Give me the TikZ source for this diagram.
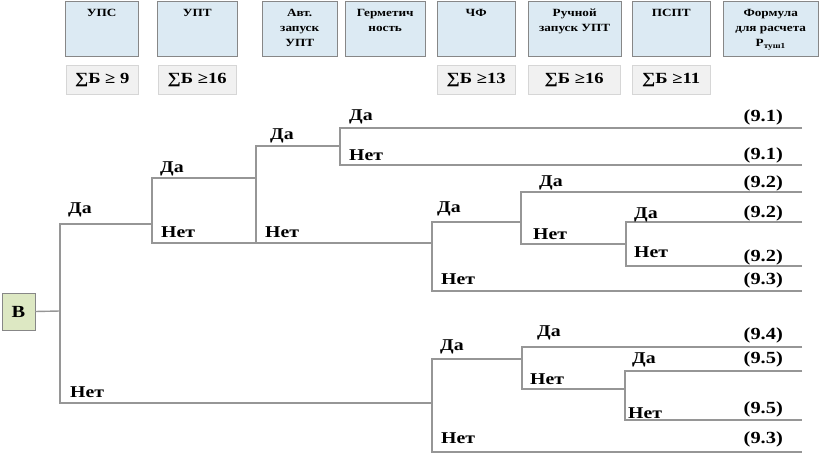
\documentclass[tikz,border=0pt]{standalone}
\usepackage{fontspec}
\setmainfont{Liberation Serif}[FakeStretch=1.2]
\usetikzlibrary{positioning}
\definecolor{hdrfill}{RGB}{220,234,243}
\definecolor{hdrline}{RGB}{135,135,135}
\definecolor{sumfill}{RGB}{241,241,241}
\definecolor{sumline}{RGB}{214,214,214}
\definecolor{bfill}{RGB}{221,232,195}
\definecolor{treeline}{RGB}{150,150,150}
\tikzset{
  hdrbox/.style={draw=hdrline,fill=hdrfill,inner sep=0pt,minimum height=55pt,anchor=north west},
  hdrtext/.style={anchor=north,yshift=-8pt,inner sep=0pt,align=center,font=\bfseries\fontsize{11}{15}\selectfont},
  sumbox/.style={draw=sumline,fill=sumfill,inner sep=0pt,minimum height=29pt,anchor=north west,font=\bfseries\fontsize{15.5}{16}\selectfont},
  branch/.style={draw=treeline,line width=1.4pt},
  ans/.style={inner sep=0pt,anchor=base west,font=\bfseries\fontsize{16.5}{16}\selectfont},
  formula/.style={inner sep=0pt,anchor=base east,font=\bfseries\fontsize{17}{16}\selectfont},
}
\begin{document}
\begin{tikzpicture}[x=1pt,y=-1pt]
  \useasboundingbox (0,0) rectangle (822,454);
  \node[hdrbox,minimum width=73pt,label={[hdrtext]north:УПС}] (hUPS) at (65,1) {};
  \node[hdrbox,minimum width=80pt,label={[hdrtext]north:УПТ}] (hUPT) at (157,1) {};
  \node[hdrbox,minimum width=75pt,label={[hdrtext]north:{Авт.\\запуск\\УПТ}}] (hAvt) at (262,1) {};
  \node[hdrbox,minimum width=80pt,label={[hdrtext]north:{Герметич\\ность}}] (hGerm) at (345,1) {};
  \node[hdrbox,minimum width=78pt,label={[hdrtext]north:ЧФ}] (hCF) at (437,1) {};
  \node[hdrbox,minimum width=93pt,label={[hdrtext]north:{Ручной\\запуск УПТ}}] (hRuch) at (528,1) {};
  \node[hdrbox,minimum width=78pt,label={[hdrtext]north:ПСПТ}] (hPSPT) at (632,1) {};
  \node[hdrbox,minimum width=95pt,label={[hdrtext]north:{Формула\\для расчета\\P\textsubscript{туш1}}}] (hForm) at (723,1) {};

  \node[sumbox,minimum width=72pt] (sUPS) at (66,65) {∑Б ≥ 9};
  \node[sumbox,minimum width=78pt] (sUPT) at (158,65) {∑Б ≥16};
  \node[sumbox,minimum width=78pt] (sCF) at (437,65) {∑Б ≥13};
  \node[sumbox,minimum width=92pt] (sRuch) at (528,65) {∑Б ≥16};
  \node[sumbox,minimum width=78pt] (sPSPT) at (632,65) {∑Б ≥11};

  \node[draw=hdrline,fill=bfill,inner sep=0pt,minimum width=33pt,minimum height=37pt,
        font=\bfseries\fontsize{17}{17}\selectfont] (B) at (18.5,311.5) {В};

  \coordinate (e) at (802,0);
  \coordinate (r) at (60,311);
  \coordinate (rY) at (60,224);   \coordinate (rN) at (60,403);
  \coordinate (a1Y) at (152,178); \coordinate (a1N) at (152,243);
  \coordinate (a2Y) at (256,146); \coordinate (a2N) at (256,243);
  \coordinate (a3Y) at (340,128); \coordinate (a3N) at (340,165);
  \coordinate (c1Y) at (432,222); \coordinate (c1N) at (432,291);
  \coordinate (c2Y) at (521,192); \coordinate (c2N) at (521,244);
  \coordinate (c3Y) at (626,222); \coordinate (c3N) at (626,266);
  \coordinate (d1Y) at (432,359); \coordinate (d1N) at (432,452);
  \coordinate (d2Y) at (522,347); \coordinate (d2N) at (522,389);
  \coordinate (d3Y) at (625,371); \coordinate (d3N) at (625,420);

  \draw[branch] (B.east) -- (r);
  \draw[branch] (rY -| a1Y) -- (rY) -- (rN) -- (rN -| d1Y);
  \draw[branch] (a1Y -| a2Y) -- (a1Y) -- (a1N) -- (a1N -| c1Y);
  \draw[branch] (a2Y -| a3Y) -- (a2Y) -- (a2N);
  \draw[branch] (a3Y -| e) -- (a3Y) -- (a3N) -- (a3N -| e);
  \draw[branch] (c1Y -| c2Y) -- (c1Y) -- (c1N) -- (c1N -| e);
  \draw[branch] (c2Y -| e) -- (c2Y) -- (c2N) -- (c2N -| c3Y);
  \draw[branch] (c3Y -| e) -- (c3Y) -- (c3N) -- (c3N -| e);
  \draw[branch] (d1Y -| d2Y) -- (d1Y) -- (d1N) -- (d1N -| e);
  \draw[branch] (d2Y -| e) -- (d2Y) -- (d2N) -- (d2N -| d3Y);
  \draw[branch] (d3Y -| e) -- (d3Y) -- (d3N) -- (d3N -| e);

  \node[ans] (lrY) at (68,214) {Да};
  \node[ans] (lrN) at (70,397) {Нет};
  \node[ans] (la1Y) at (160,173) {Да};
  \node[ans] (la1N) at (161,238) {Нет};
  \node[ans] (la2Y) at (270,140) {Да};
  \node[ans] (la2N) at (265,238) {Нет};
  \node[ans] (la3Y) at (349,121) {Да};
  \node[ans] (la3N) at (349,161) {Нет};
  \node[ans] (lc1Y) at (437,213) {Да};
  \node[ans] (lc1N) at (441,285) {Нет};
  \node[ans] (lc2Y) at (539,187) {Да};
  \node[ans] (lc2N) at (533,240) {Нет};
  \node[ans] (lc3Y) at (634,219) {Да};
  \node[ans] (lc3N) at (634,258) {Нет};
  \node[ans] (ld1Y) at (440,350) {Да};
  \node[ans] (ld1N) at (441,443) {Нет};
  \node[ans] (ld2Y) at (537,337) {Да};
  \node[ans] (ld2N) at (530,384) {Нет};
  \node[ans] (ld3Y) at (632,363) {Да};
  \node[ans] (ld3N) at (628,418) {Нет};

  \node[formula] (f1) at (783,122) {(9.1)};
  \node[formula] (f2) at (783,160) {(9.1)};
  \node[formula] (f3) at (783,188) {(9.2)};
  \node[formula] (f4) at (783,218) {(9.2)};
  \node[formula] (f5) at (783,262) {(9.2)};
  \node[formula] (f6) at (783,285) {(9.3)};
  \node[formula] (f7) at (783,339) {(9.4)};
  \node[formula] (f8) at (783,363) {(9.5)};
  \node[formula] (f9) at (783,413) {(9.5)};
  \node[formula] (f10) at (783,443) {(9.3)};
\end{tikzpicture}
\end{document}
